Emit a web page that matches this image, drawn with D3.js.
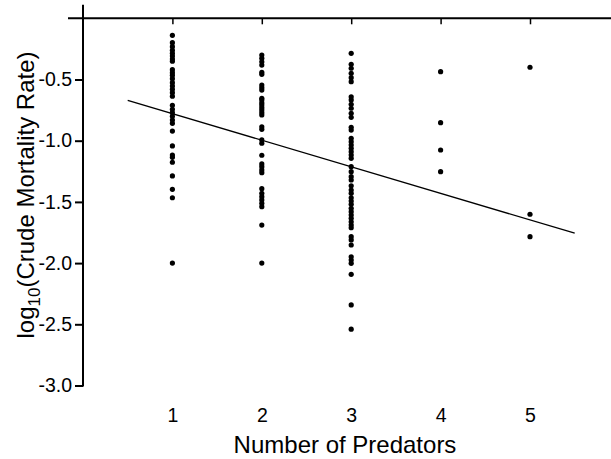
<!DOCTYPE html>
<html><head><meta charset="utf-8">
<script src="https://cdn.jsdelivr.net/npm/d3@7"></script>
<style>body{margin:0;background:#fff}svg{display:block}text{font-family:"Liberation Sans",Arial,sans-serif;fill:#000}</style>
</head><body>
<svg id="c" width="611" height="459"></svg>
<script>
const predators = [1, 2, 3, 4, 5];
const col1 = [-0.139,-0.199,-0.232,-0.261,-0.286,-0.308,-0.333,-0.351,-0.42,-0.444,-0.466,-0.493,-0.526,-0.553,-0.58,-0.608,-0.637,-0.711,-0.743,-0.771,-0.801,-0.831,-0.858,-0.921,-1.043,-1.117,-1.136,-1.176,-1.288,-1.397,-1.466,-2.0];
const col2 = [-0.30,-0.327,-0.355,-0.382,-0.441,-0.458,-0.545,-0.567,-0.586,-0.654,-0.667,-0.690,-0.708,-0.730,-0.749,-0.771,-0.790,-0.886,-0.907,-0.994,-1.021,-1.119,-1.190,-1.212,-1.239,-1.261,-1.392,-1.43,-1.457,-1.484,-1.512,-1.539,-1.689,-2.0];
const col3 = [-0.286,-0.376,-0.408,-0.449,-0.485,-0.518,-0.641,-0.667,-0.703,-0.735,-0.776,-0.809,-0.891,-0.913,-0.980,-1.008,-1.035,-1.062,-1.090,-1.117,-1.144,-1.212,-1.253,-1.294,-1.321,-1.368,-1.403,-1.430,-1.466,-1.493,-1.520,-1.552,-1.580,-1.607,-1.634,-1.662,-1.689,-1.711,-1.784,-1.811,-1.852,-1.948,-1.975,-2.002,-2.092,-2.342,-2.540];
const col4 = [-0.436,-0.853,-1.076,-1.253];
const col5 = [-0.40,-1.601,-1.784];
const yTicks = [-0.5, -1.0, -1.5, -2.0, -2.5, -3.0];
const fitIntercept = -0.562;
const fitSlope = -0.217;
const fitRange = [0.5, 5.5];

const columns = [col1, col2, col3, col4, col5];
const points = [];
columns.forEach((vals, i) => vals.forEach(v => points.push({x: predators[i], y: v})));

const svg = d3.select("#c");
const x = d3.scaleLinear().domain([0, 6]).range([83, 619.4]);
const y = d3.scaleLinear().domain([-3, 0]).range([385.5, 18.3]);

// top zero line
svg.append("line").attr("x1", 68).attr("x2", 611).attr("y1", y(0)).attr("y2", y(0))
  .attr("stroke", "#000").attr("stroke-width", 2);

// x ticks on zero line
const xTop = svg.append("g").attr("transform", `translate(0,${y(0)})`)
  .call(d3.axisBottom(x).tickValues(predators).tickSize(6).tickFormat(""));
xTop.select(".domain").remove();
xTop.selectAll(".tick line").attr("stroke", "#000").attr("stroke-width", 1.5);

// x labels at bottom
const xBot = svg.append("g").attr("transform", `translate(0,402)`)
  .call(d3.axisBottom(x).tickValues(predators).tickSize(0).tickFormat(d3.format("d")));
xBot.select(".domain").remove();
xBot.selectAll("text").attr("font-size", 19.5).attr("dy", "0.71em").attr("y", 6)
  .style("font-family", '"Liberation Sans",Arial,sans-serif');

// y axis
svg.append("line").attr("x1", x(0)).attr("x2", x(0)).attr("y1", y(0.11)).attr("y2", y(-3) + 1)
  .attr("stroke", "#000").attr("stroke-width", 2);
const yAx = svg.append("g").attr("transform", `translate(${x(0)},0)`)
  .call(d3.axisLeft(y).tickValues(yTicks).tickSize(8).tickPadding(3).tickFormat(d => d.toFixed(1)));
yAx.select(".domain").remove();
yAx.selectAll(".tick line").attr("stroke", "#000").attr("stroke-width", 2);
yAx.selectAll("text").attr("font-size", 19.5)
  .style("font-family", '"Liberation Sans",Arial,sans-serif');

// regression line
svg.append("line")
  .attr("x1", x(fitRange[0])).attr("y1", y(fitIntercept + fitSlope * fitRange[0]))
  .attr("x2", x(fitRange[1])).attr("y2", y(fitIntercept + fitSlope * fitRange[1]))
  .attr("stroke", "#000").attr("stroke-width", 1.4);

// points
svg.append("g").selectAll("circle").data(points).join("circle")
  .attr("cx", d => x(d.x)).attr("cy", d => y(d.y)).attr("r", 2.6).attr("fill", "#000");

// axis titles
svg.append("text").attr("x", 345).attr("y", 453).attr("text-anchor", "middle")
  .attr("font-size", 24).text("Number of Predators");
const yl = svg.append("text").attr("transform", "translate(34,195) rotate(-90)")
  .attr("text-anchor", "middle").attr("font-size", 24);
yl.append("tspan").text("log");
yl.append("tspan").attr("font-size", 17).attr("dy", 6).text("10");
yl.append("tspan").attr("dy", -6).text("(Crude Mortality Rate)");
</script>
</body></html>
